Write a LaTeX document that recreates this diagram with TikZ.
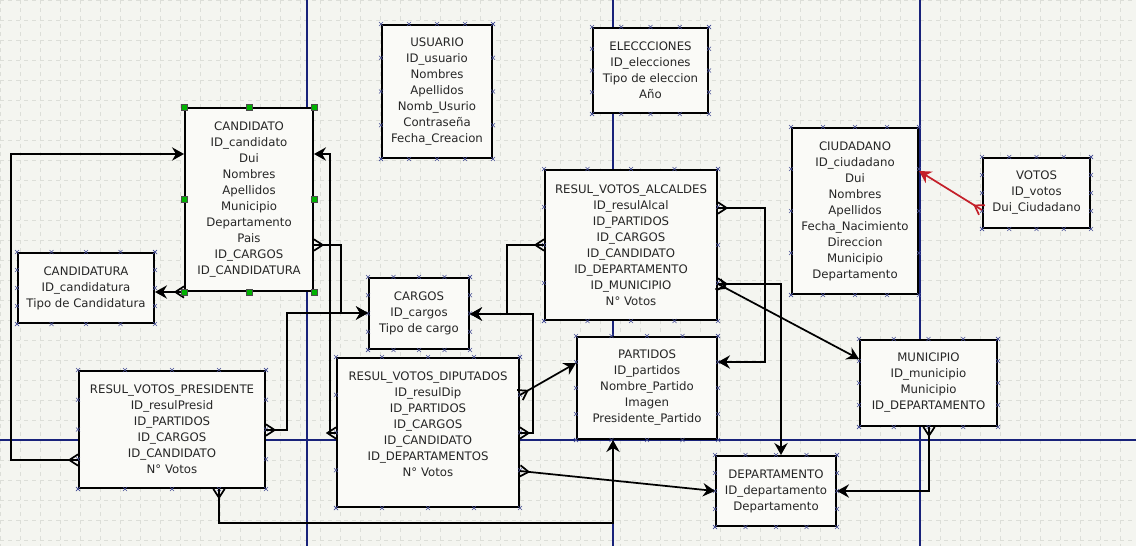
\documentclass[tikz,border=0pt]{standalone}
\usepackage{fontspec}
\setmainfont{DejaVu Sans}
\usepackage{tikz}
\usetikzlibrary{arrows.meta}
\usetikzlibrary{calc}
\usetikzlibrary{positioning}

\definecolor{fondo}{HTML}{F4F5F0}
\definecolor{rejilla}{HTML}{DCDED8}
\definecolor{pagina}{HTML}{18227A}
\definecolor{rojo}{HTML}{C4202A}
\definecolor{cajafondo}{HTML}{FAFAF7}

\pgfdeclarearrow{
  name = Crow,
  parameters = {\the\pgfarrowlength,\the\pgfarrowwidth},
  setup code = {
    \pgfarrowssettipend{0pt}
    \pgfarrowssetlineend{0pt}
    \pgfarrowssetbackend{-\pgfarrowlength}
    \pgfarrowssavethe\pgfarrowlength
    \pgfarrowssavethe\pgfarrowwidth
  },
  drawing code = {
    \pgfpathmoveto{\pgfqpoint{0pt}{.5\pgfarrowwidth}}
    \pgfpathlineto{\pgfqpoint{-\pgfarrowlength}{0pt}}
    \pgfpathlineto{\pgfqpoint{0pt}{-.5\pgfarrowwidth}}
    \pgfusepathqstroke
  },
  defaults = {length=6pt, width=8pt}
}

\begin{document}
\begin{tikzpicture}
		[x=0.75pt,y=-0.75pt,
		tabla/.style={draw,line width=1.5pt,fill=cajafondo,align=center,inner sep=0pt,text=black!85,font=\fontsize{8.8}{12}\selectfont},
		dim/.style 2 args={minimum width=#1*0.75pt,minimum height=#2*0.75pt},
		rel/.style={line width=1.3pt,{Crow[length=6.5pt,width=8.5pt]}-{Stealth[length=9pt,width=10pt,inset=3pt]}},
		cruz/.style={pagina!80,line width=0.4pt},
		marca/.style={fill=green!70!black,draw=black!70,line width=0.4pt}]
		\useasboundingbox (0,0) rectangle (1136,546);
		\fill[fondo] (0,0) rectangle (1136,546);
		\foreach \gx in {0,20,...,1136}
		\draw[rejilla,dashed,line width=0.4pt] (\gx,0) -- (\gx,546);
		\foreach \gy in {0,20,...,546}
		\draw[rejilla,dashed,line width=0.4pt] (0,\gy) -- (1136,\gy);
		\foreach \px in {307,613,920}
		\draw[pagina,line width=0.8pt] (\px,0) -- (\px,546);
		\draw[pagina,line width=0.8pt] (0,440) -- (1136,440);
		
		\node[tabla,dim={110}{133}] (usuario) at (437,91.5) {USUARIO\\ID\_usuario\\Nombres\\Apellidos\\Nomb\_Usurio\\Contraseña\\Fecha\_Creacion};
		\node[tabla,dim={115}{85}] (elecciones) at (650.5,70.5) {ELECCCIONES\\ID\_elecciones\\Tipo de eleccion\\Año};
		\node[tabla,dim={128}{183}] (candidato) at (249,199.5) {CANDIDATO\\ID\_candidato\\Dui\\Nombres\\Apellidos\\Municipio\\Departamento\\Pais\\ID\_CARGOS\\ID\_CANDIDATURA};
		\node[tabla,dim={136}{70}] (candidatura) at (86,288) {CANDIDATURA\\ID\_candidatura\\Tipo de Candidatura};
		\node[tabla,dim={100}{71}] (cargos) at (419,313.5) {CARGOS\\ID\_cargos\\Tipo de cargo};
		\node[tabla,dim={186}{117}] (presidente) at (172,429.5) {RESUL\_VOTOS\_PRESIDENTE\\ID\_resulPresid\\ID\_PARTIDOS\\ID\_CARGOS\\ID\_CANDIDATO\\N° Votos};
		\node[tabla,dim={182}{149}] (diputados) at (428,432.5) {RESUL\_VOTOS\_DIPUTADOS\\ID\_resulDip\\ID\_PARTIDOS\\ID\_CARGOS\\ID\_CANDIDATO\\ID\_DEPARTAMENTOS\\N° Votos\\[0pt]};
		\node[tabla,dim={172}{150}] (alcaldes) at (631,245) {RESUL\_VOTOS\_ALCALDES\\ID\_resulAlcal\\ID\_PARTIDOS\\ID\_CARGOS\\ID\_CANDIDATO\\ID\_DEPARTAMENTO\\ID\_MUNICIPIO\\N° Votos};
		\node[tabla,dim={140}{102}] (partidos) at (647,388) {PARTIDOS\\ID\_partidos\\Nombre\_Partido\\Imagen\\Presidente\_Partido};
		\node[tabla,dim={126}{166}] (ciudadano) at (855,211) {CIUDADANO\\ID\_ciudadano\\Dui\\Nombres\\Apellidos\\Fecha\_Nacimiento\\Direccion\\Municipio\\Departamento};
		\node[tabla,dim={107}{70}] (votos) at (1036.5,193) {VOTOS\\ID\_votos\\Dui\_Ciudadano};
		\node[tabla,dim={137}{86}] (municipio) at (928.5,383) {MUNICIPIO\\ID\_municipio\\Municipio\\ID\_DEPARTAMENTO};
		\node[tabla,dim={120}{70}] (departamento) at (776,491) {DEPARTAMENTO\\ID\_departamento\\Departamento};
		
		\foreach \n in {usuario,elecciones,candidatura,cargos,presidente,diputados,alcaldes,partidos,ciudadano,votos,municipio,departamento}
		\foreach \f in {0,0.25,0.5,0.75,1}
		\draw[cruz] ($(\n.north west)!\f!(\n.north east)$) +(-2,-2) -- +(2,2) +(-2,2) -- +(2,-2)
		($(\n.south west)!\f!(\n.south east)$) +(-2,-2) -- +(2,2) +(-2,2) -- +(2,-2)
		($(\n.north west)!\f!(\n.south west)$) +(-2,-2) -- +(2,2) +(-2,2) -- +(2,-2)
		($(\n.north east)!\f!(\n.south east)$) +(-2,-2) -- +(2,2) +(-2,2) -- +(2,-2);
		
		\draw[rel] (presidente.west |- 0,460) -- (11,460) -- (11,154) -- (candidato.west |- 0,154);
		\draw[rel] (candidato.south west) -- (candidatura.east |- candidato.south west);
		\draw[rel] (diputados.west |- 0,433) -- (330,433) -- (330,154) -- (candidato.east |- 0,154);
		\draw[rel] (candidato.east |- 0,245) -- (341,245) -- (341,313) -- (cargos.west |- 0,313);
		\draw[rel] (presidente.east |- 0,430) -- (287,430) -- (287,313) -- (cargos.west |- 0,313);
		\draw[rel] (diputados.east |- 0,433) -- (533,433) -- (533,314) -- (cargos.east |- 0,314);
		\draw[rel] (alcaldes.west |- 0,245) -- (507,245) -- (507,314) -- (cargos.east |- 0,314);
		\draw[rel] (diputados.east |- 0,395) -- (partidos.west |- 0,363);
		\draw[rel] (diputados.east |- 0,471) -- (departamento.west |- 0,491);
		\draw[rel] (presidente.south -| 219,0) -- (219,523) -- (613,523) -- (partidos.south -| 613,0);
		\draw[rel] (alcaldes.east |- 0,208) -- (765,208) -- (765,362) -- (partidos.east |- 0,362);
		\draw[rel] (alcaldes.east |- 0,284) -- (781,284) -- (departamento.north -| 781,0);
		\draw[rel] (alcaldes.east |- 0,284) -- (municipio.west |- 0,359);
		\draw[rel] (municipio.south -| 929,0) -- (929,491) -- (departamento.east |- 0,491);
		\draw[rel,rojo] (votos.west |- 0,210) -- (ciudadano.east |- 0,171);
		
		\foreach \a in {north west,north,north east,west,east,south west,south,south east}
		\draw[marca] (candidato.\a) +(-3,-3) rectangle +(3,3);
		\end{tikzpicture}
\end{document}
